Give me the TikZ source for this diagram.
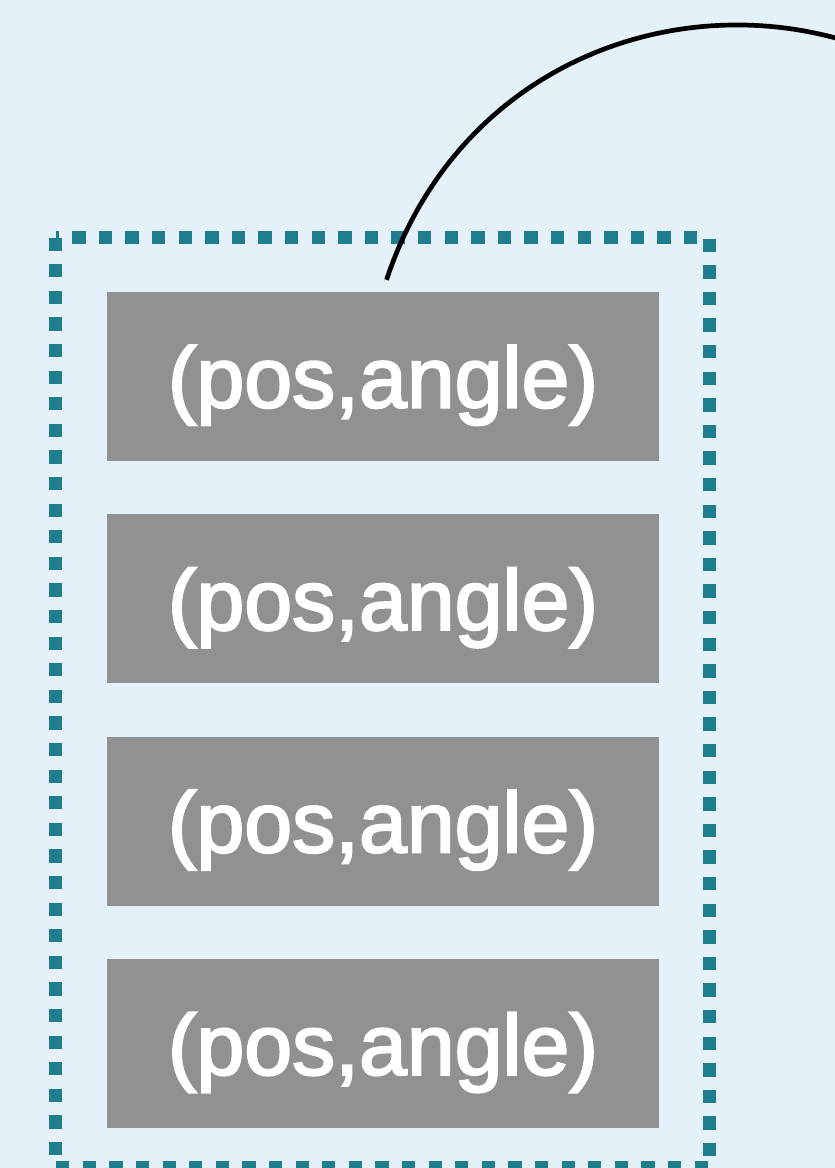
\documentclass[tikz,border=0pt]{standalone}
\usepackage{fontspec}
\setmainfont{Liberation Sans}
\newfontfamily\slotfont{Liberation Sans}[FakeBold=2.5]
\usepackage{tikz}
\usetikzlibrary{positioning}
\usepackage{xcolor}
\definecolor{bgblue}{HTML}{E4F1F8}
\definecolor{frameteal}{HTML}{1F7E8E}
\definecolor{slotgray}{HTML}{919191}

\begin{document}
\begin{tikzpicture}[
  x=1pt, y=-1pt,
  every node/.style={font=\slotfont\fontsize{86}{100}\selectfont},
  slot/.style={fill=slotgray, text=white, minimum width=552pt,
               minimum height=169pt, inner sep=0pt,
               text height=80pt, text depth=18pt},
  group/.style={draw=frameteal, line width=13.3pt,
                dash pattern=on 13.3pt off 13.3pt},
  link/.style={draw=black, line width=4.7pt}
]
%% page and background
\useasboundingbox (0,0) rectangle (835,1168);
\clip (0,0) rectangle (835,1168);
\fill[bgblue] (0,0) rectangle (835,1168);
%% stack of pose slots
\node[slot] (slot1) at (383,376.5) {(pos,angle)};
\node[slot, below=53pt of slot1] (slot2) {(pos,angle)};
\node[slot, below=53pt of slot2] (slot3) {(pos,angle)};
\node[slot, below=53pt of slot3] (slot4) {(pos,angle)};
%% dotted frame round the stack
\draw[group] ([xshift=-51.3pt,yshift=54.3pt]slot1.north west)
  rectangle ([xshift=50.3pt,yshift=-39.5pt]slot4.south east);
%% curve leaving the stack
\coordinate (tail) at ([xshift=3.5pt,yshift=12pt]slot1.north);
\coordinate (head) at (1088,280);
\draw[link] (tail) .. controls (500,-60) and (974,-60) .. (head);
\end{tikzpicture}
\end{document}
